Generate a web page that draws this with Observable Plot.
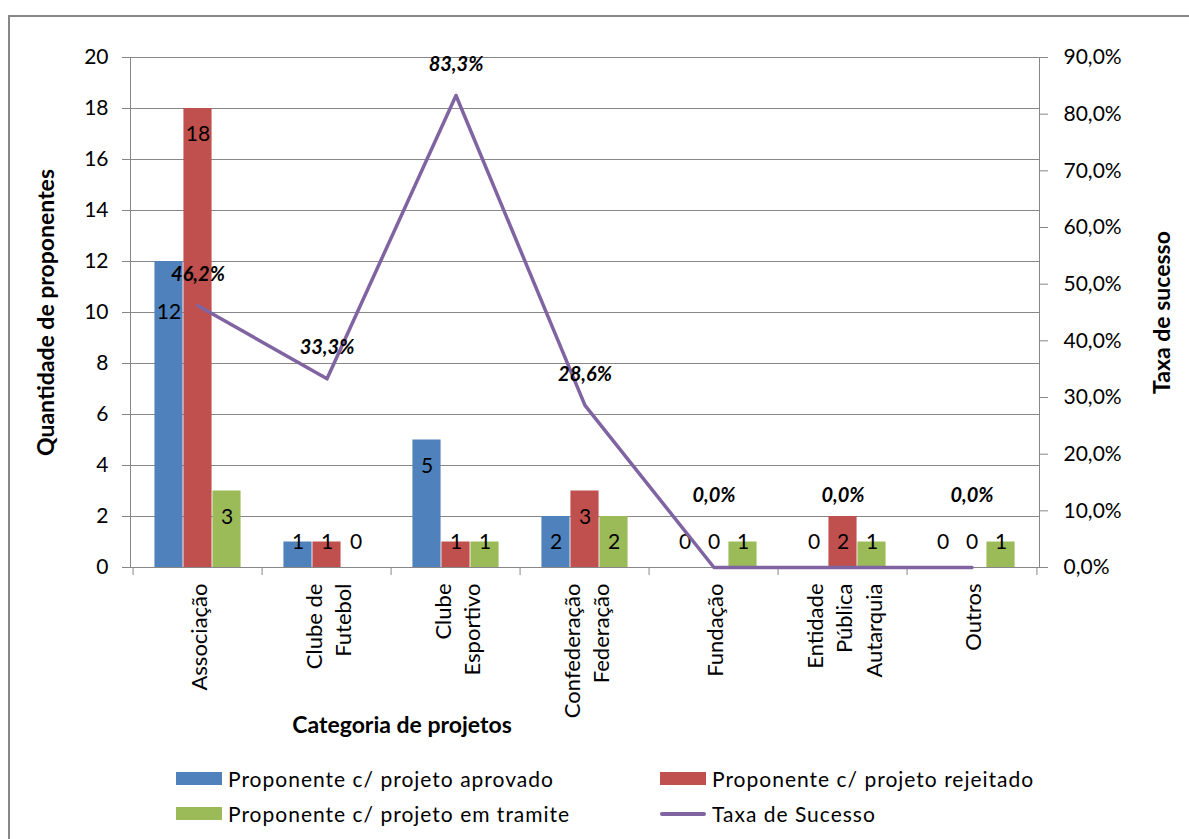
<!DOCTYPE html>
<html>
<head>
<meta charset="utf-8">
<script src="https://cdn.jsdelivr.net/npm/d3@7"></script>
<script src="https://cdn.jsdelivr.net/npm/@observablehq/plot@0.6"></script>
<style>
  body { margin: 0; background: #fff; font-family: Lato, "Open Sans", sans-serif; }
  #chart { position: absolute; left: 8px; top: 15px; width: 1190px; height: 830px; border: 2px solid #878787; background: #fff; }
  #plot { position: absolute; left: 0; top: 0; }
  #legend { position: absolute; left: 166px; top: 744px; display: grid; grid-template-columns: 484px 440px; grid-auto-rows: 35px; font-size: 21px; letter-spacing: 1px; color: #000; }
  .item { display: flex; align-items: center; white-space: nowrap; }
  .sw { display: inline-block; width: 46px; height: 13px; margin-right: 6px; }
  .ln { display: inline-block; width: 46px; height: 4px; margin-right: 6px; border-radius: 2px; }
</style>
</head>
<body>
<div id="chart">
  <div id="plot"></div>
  <div id="legend"></div>
</div>
<script>
// Categories of proponents
const categories = [
  "Associação",
  "Clube de\nFutebol",
  "Clube\nEsportivo",
  "Confederação\nFederação",
  "Fundação",
  "Entidade\nPública\nAutarquia",
  "Outros"
];
// Number of proponents per outcome
const aprovado  = [12, 1, 5, 2, 0, 0, 0];
const rejeitado = [18, 1, 1, 3, 0, 2, 0];
const tramite   = [3, 0, 1, 2, 1, 1, 1];
// Success rate per category
const taxa = [0.462, 0.333, 0.833, 0.286, 0, 0, 0];

// Axis ticks
const countTicks = [0, 2, 4, 6, 8, 10, 12, 14, 16, 18, 20];
const rateTicks = [0, 0.1, 0.2, 0.3, 0.4, 0.5, 0.6, 0.7, 0.8, 0.9];

const seriesNames = [
  "Proponente c/ projeto aprovado",
  "Proponente c/ projeto rejeitado",
  "Proponente c/ projeto em tramite",
  "Taxa de Sucesso"
];
const colors = ["#4F81BD", "#C0504D", "#9BBB59", "#8064A2"];

const ptBR = d3.formatLocale({decimal: ",", thousands: ".", grouping: [3], currency: ["R$", ""]});
const pct = ptBR.format(".1%");

// The rate shares the count axis: 0–90 % spans 0–20
const countMax = 20, rateMax = 0.9;
const toCount = r => r * countMax / rateMax;

const W = 1180, H = 730;
const mL = 120, mR = 151, mT = 40, mB = 180;
const band = (W - mL - mR) / categories.length;
const barW = 29;
const inset = (band - barW) / 2;

const rows = (vals) => categories.map((c, i) => ({c, v: vals[i]}));
const rateRows = categories.map((c, i) => ({c, rate: taxa[i], y: toCount(taxa[i])}));

function barSeries(vals, color, dx) {
  return Plot.barY(rows(vals), {x: "c", y: "v", fill: color, insetLeft: inset, insetRight: inset, dx});
}

// value labels sit just inside the bar top, never lower than the 2-unit line
function barLabels(vals, dx, skip) {
  const data = rows(vals).filter(d => !skip || !skip(d));
  return Plot.text(data, {x: "c", y: d => Math.max(d.v, 2), text: d => String(d.v), dx, dy: 26, fontSize: 21, fill: "#000"});
}

const grey = "#878787";
const italicBold = {fontSize: 20, fontWeight: "bold", fontStyle: "italic", fill: "#000"};
const titleStyle = {fontSize: 23, fontWeight: "bold", fill: "#000", textAnchor: "middle", lineAnchor: "middle"};

const plot = Plot.plot({
  width: W,
  height: H,
  marginLeft: mL,
  marginRight: mR,
  marginTop: mT,
  marginBottom: mB,
  style: {fontFamily: "Lato, 'Open Sans', sans-serif", fontSize: "21px", color: "#000", background: "transparent", overflow: "visible"},
  x: {domain: categories, padding: 0, axis: null},
  y: {domain: [0, countMax], label: null},
  marks: [
    Plot.gridY(countTicks, {stroke: grey, strokeOpacity: 1, strokeWidth: 1}),
    Plot.axisY(countTicks, {anchor: "left", tickSize: 8, tickPadding: 14, stroke: grey, label: null, fontSize: 21}),
    Plot.axisY(rateTicks.map(toCount), {anchor: "right", tickSize: 8, tickPadding: 16, stroke: grey, label: null, fontSize: 21, tickFormat: d => pct(d * rateMax / countMax)}),
    Plot.frame({anchor: "left", stroke: grey}),
    Plot.frame({anchor: "right", stroke: grey}),
    // category boundary ticks below the baseline
    Plot.ruleX(categories, {x: d => d, dx: -band / 2, insetTop: H - mT - mB, insetBottom: -8, stroke: grey}),
    Plot.ruleX(categories.slice(-1), {x: d => d, dx: band / 2, insetTop: H - mT - mB, insetBottom: -8, stroke: grey}),
    barSeries(aprovado, colors[0], -barW),
    barSeries(rejeitado, colors[1], 0),
    barSeries(tramite, colors[2], barW),
    Plot.ruleY([0], {stroke: grey}),
    barLabels(aprovado, -barW, d => d.c === categories[0]),
    Plot.text(rows(aprovado).filter(d => d.c === categories[0]), {x: "c", y: "v", text: d => String(d.v), dx: -barW, dy: 51, fontSize: 21, fill: "#000"}),
    barLabels(rejeitado, 0),
    barLabels(tramite, barW),
    Plot.line(rateRows, {x: "c", y: "y", stroke: colors[3], strokeWidth: 3.5}),
    Plot.text(rateRows.filter(d => d.rate > 0), {x: "c", y: "y", text: d => pct(d.rate), dy: -31, ...italicBold}),
    Plot.text(rateRows.filter(d => d.rate === 0), {x: "c", y: "y", text: d => pct(d.rate), dy: -72, ...italicBold}),
    // category names
    Plot.text(categories, {x: d => d, text: d => d, frameAnchor: "bottom", dy: 16, rotate: -90, textAnchor: "end", lineAnchor: "middle", lineHeight: 1.33, fontSize: 22, fill: "#000"}),
    // axis titles
    Plot.text(["Quantidade de proponentes"], {text: d => d, frameAnchor: "left", dx: -84, rotate: -90, ...titleStyle}),
    Plot.text(["Taxa de sucesso"], {text: d => d, frameAnchor: "right", dx: 123, rotate: -90, ...titleStyle}),
    Plot.text(["Categoria de projetos"], {text: d => d, frameAnchor: "bottom", dx: -183, dy: 158, ...titleStyle})
  ]
});
document.getElementById("plot").appendChild(plot);

// Legend below the chart
const legend = document.getElementById("legend");
seriesNames.forEach((name, i) => {
  const item = document.createElement("div");
  item.className = "item";
  const mark = document.createElement("span");
  mark.className = i === 3 ? "ln" : "sw";
  mark.style.background = colors[i];
  item.appendChild(mark);
  item.appendChild(document.createTextNode(name));
  legend.appendChild(item);
});
</script>
</body>
</html>
